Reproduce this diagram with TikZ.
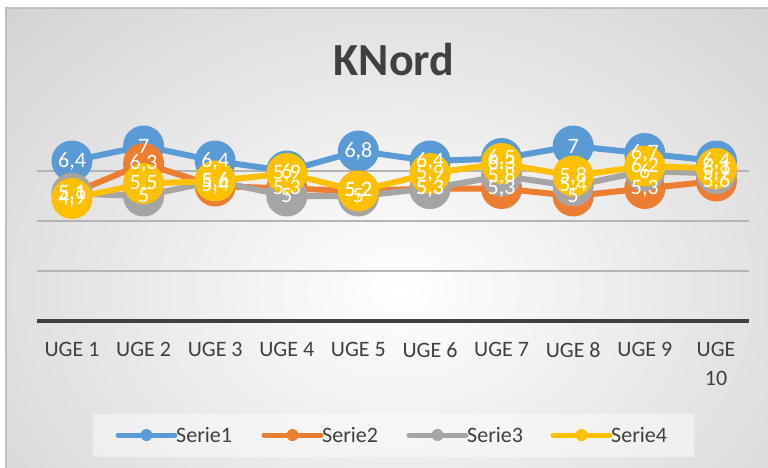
\documentclass[tikz,border=0pt]{standalone}
\usepackage{fontspec}
\setmainfont{Carlito}
\definecolor{serA}{HTML}{5B9BD5}
\definecolor{serB}{HTML}{ED7D31}
\definecolor{serC}{HTML}{A5A5A5}
\definecolor{serD}{HTML}{FFC000}
\definecolor{tekst}{HTML}{404040}
\definecolor{gitterfarve}{HTML}{B4B4B4}
\newcommand\serier{a/serA/{6.4,7,6.4,6,6.8,6.4,6.5,7,6.7,6.4},
  b/serB/{5.1,6.3,5.4,5.3,5.2,5.3,5.3,5,5.3,5.6},
  c/serC/{5.1,5,5.6,5,5,5.3,5.8,5.4,6,5.9},
  d/serD/{4.9,5.5,5.6,5.9,5.2,5.9,6.3,5.8,6.2,6.1}}
\pgfkeys{/pgf/number format/.cd,use comma,assume math mode=true}
\tikzset{
  punkt/.style={circle,fill=#1,minimum size=41pt,inner sep=0pt},
  linje/.style={#1,line width=6pt,line join=round},
  vaerdi/.style={text=white,font=\fontsize{22}{22}\selectfont,inner sep=0pt},
  akse/.style={text=tekst,font=\fontsize{22}{29}\selectfont,align=center,anchor=north},
  legline/.style={#1,line width=5pt,line cap=round},
  legpunkt/.style={circle,fill=#1,minimum size=12pt,inner sep=0pt},
  legtekst/.style={text=tekst,font=\fontsize{22}{22}\selectfont,inner sep=1pt,anchor=west}
}
\begin{document}
\begin{tikzpicture}[x=1pt,y=-1pt]
\useasboundingbox (0,0) rectangle (768,468);
\fill[white] (0,0) rectangle (768,468);
\begin{scope}
\clip (6,8) rectangle (768,468);
\shade[inner color=white,outer color=black!26] (400,290) ellipse [x radius=820pt,y radius=620pt];
\end{scope}
\draw[black!25,line width=1.5pt] (6,468) -- (6,8) -- (768,8);
\node[text=tekst,font=\fontsize{46}{46}\selectfont\bfseries] (titel) at (394,60) {KNord};
\fill[white,opacity=0.45] (93,414) rectangle (694,457);
% gitter og akse
\foreach \v in {2,4,6}
  \draw[gitterfarve,line width=1.5pt] (37,{321-25*\v}) -- (749,{321-25*\v});
\draw[tekst,line width=4pt] (37,321) -- (749,321);
% serierne
\foreach \s/\farve/\data in \serier {
  \foreach \v [count=\i] in \data
    \coordinate (\s\i) at ({72+71.6*(\i-1)},{321-25*\v});
  \draw[linje=\farve] (\s1) \foreach \i in {2,...,10}{ -- (\s\i)};
  \foreach \i in {1,...,10}
    \node[punkt=\farve] (p\s\i) at (\s\i) {};
}
\foreach \s/\farve/\data in \serier {
  \foreach \v [count=\i] in \data
    \node[vaerdi] (t\s\i) at (\s\i) {\pgfmathprintnumber{\v}};
}
% kategorier
\foreach \i in {1,...,9}
  \node[akse] (uge\i) at ({72+71.6*(\i-1)},339) {UGE \i};
\node[akse] (uge10) at (716,339) {UGE\\10};
% forklaring
\foreach \farve/\navn/\x [count=\k] in {serA/Serie1/118,serB/Serie2/264,serC/Serie3/409,serD/Serie4/553} {
  \coordinate (la\k) at (\x,435);
  \coordinate (lb\k) at ({\x+57},435);
  \draw[legline=\farve] (la\k) -- (lb\k);
  \node[legpunkt=\farve] (lp\k) at ({\x+28.5},435) {};
  \node[legtekst] (ln\k) at (lb\k) {\navn};
}
\end{tikzpicture}
\end{document}
